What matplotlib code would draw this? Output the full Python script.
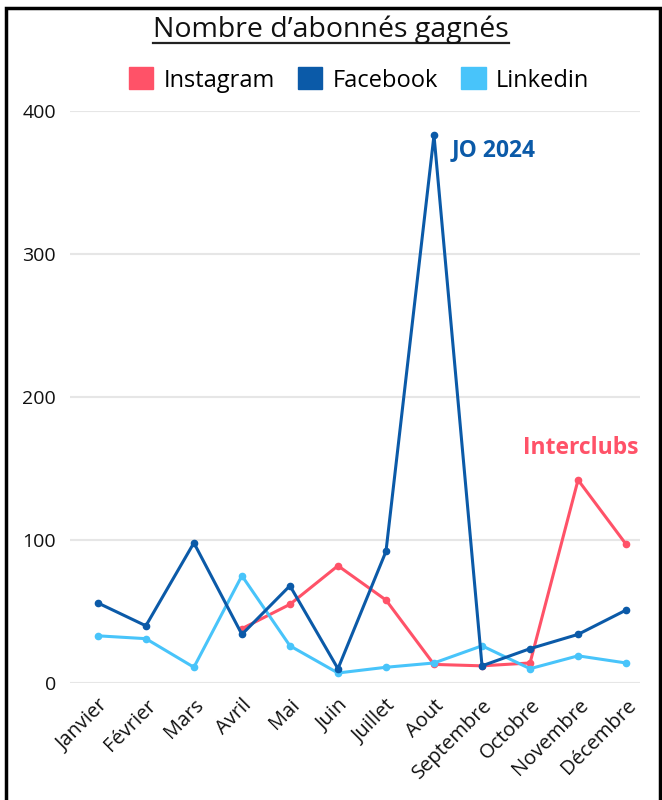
import matplotlib
matplotlib.use("Agg")
import matplotlib.pyplot as plt
from matplotlib.patches import Patch, Rectangle

months = ["Janvier", "Février", "Mars", "Avril", "Mai", "Juin", "Juillet",
          "Aout", "Septembre", "Octobre", "Novembre", "Décembre"]
instagram = [None, None, None, 38, 55, 82, 58, 13, 12, 14, 142, 97]
facebook = [56, 40, 98, 34, 68, 10, 92, 383, 12, 24, 34, 51]
linkedin = [33, 31, 11, 75, 26, 7, 11, 14, 26, 10, 19, 14]
yticks = [0, 100, 200, 300, 400]

c_insta = "#FF5268"
c_fb = "#0B5AA8"
c_li = "#48C4FA"

plt.rcParams['font.family'] = ['Open Sans', 'DejaVu Sans']

fig = plt.figure(figsize=(6.62, 8), dpi=100)
ax = fig.add_axes([70/662, 1-683/800, 570/662, (683-111)/800])

x = list(range(len(months)))
xi = [i for i, v in enumerate(instagram) if v is not None]
vi = [v for v in instagram if v is not None]

ax.plot(xi, vi, color=c_insta, lw=2.2, marker='o', ms=4.5, zorder=3)
ax.plot(x, linkedin, color=c_li, lw=2.2, marker='o', ms=4.5, zorder=4)
ax.plot(x, facebook, color=c_fb, lw=2.2, marker='o', ms=4.5, zorder=5)

ax.set_xlim(-0.58, 11.29)
ax.set_ylim(0, 400)
ax.set_yticks(yticks)
ax.set_yticklabels([str(t) for t in yticks], fontsize=14)
ax.set_xticks(x)
ax.set_xticklabels(months, rotation=45, ha='right', rotation_mode='anchor', fontsize=14.5)
ax.tick_params(axis='both', length=0, colors='#111111')
ax.tick_params(axis='y', pad=10)
ax.tick_params(axis='x', pad=9)
ax.grid(axis='y', color='#e6e6e6', lw=1.5)
for s in ax.spines.values():
    s.set_visible(False)
ax.axhline(0, color='#dddddd', lw=2, zorder=1)

ax.text(7.375, 373, "JO 2024", color=c_fb, fontsize=16.5, fontweight='bold', va='center', ha='left')
ax.text(8.85, 164, "Interclubs", color=c_insta, fontsize=16.5, fontweight='bold', va='center', ha='left')

title = fig.text(0.5, 1-30/800, "Nombre d’abonnés gagnés", ha='center', va='center', fontsize=20.5,
                 color='#111111')

handles = [Patch(color=c_insta, label="Instagram"),
           Patch(color=c_fb, label="Facebook"),
           Patch(color=c_li, label="Linkedin")]
fig.legend(handles=handles, loc='center', bbox_to_anchor=(359/662, 1-80/800), ncol=3,
           frameon=False, fontsize=17, handlelength=1.05, handleheight=1.05,
           columnspacing=0.95, handletextpad=0.45)

fig.canvas.draw()
bb = title.get_window_extent(fig.canvas.get_renderer())
fig.add_artist(plt.Line2D([bb.x0/662, bb.x1/662], [1-43/800, 1-43/800], color='#222222', lw=1.6))

fig.add_artist(Rectangle((6/662, -0.02), 654/662, 1.0-8/800+0.02, fill=False,
                         edgecolor='black', lw=2.5, transform=fig.transFigure))

fig.savefig("out.png", dpi=100)
